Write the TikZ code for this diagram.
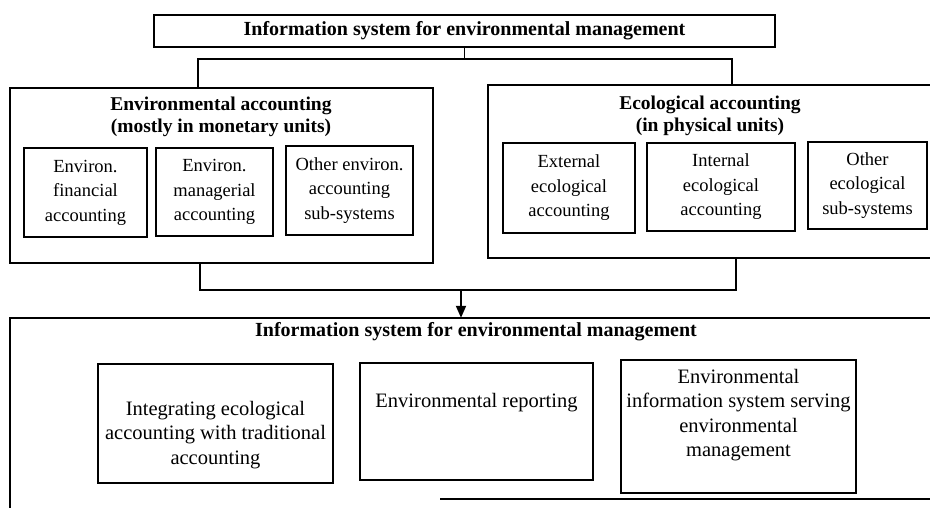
\documentclass[tikz,border=0pt]{standalone}
\usepackage{fontspec}
\setmainfont{Liberation Serif}
\usetikzlibrary{arrows.meta}
\begin{document}
\begin{tikzpicture}[x=1pt,y=-1pt,
  line/.style={line width=1.8pt},
  frame/.style={draw, line, rectangle, inner sep=0pt},
  hidden/.style={rectangle, inner sep=0pt},
  head/.style={font=\bfseries\fontsize{20}{22}\selectfont},
  title/.style={align=center, font=\bfseries\fontsize{19.5}{21.5}\selectfont},
  sub/.style={frame, align=center, font=\fontsize{18.5}{24.5}\selectfont},
  txtB/.style={align=center, font=\fontsize{20.5}{24.5}\selectfont}]
\useasboundingbox (0,0) rectangle (930,508);

% top-level system
\node[frame, head, minimum width=621pt, minimum height=32pt] (top) at (464.5,31)
  {Information system for environmental management};

% environmental accounting block
\node[frame, minimum width=423pt, minimum height=175pt] (envacc) at (221.5,175.5) {};
\node[title] (envT) at (221,117) {Environmental accounting\\(mostly in monetary units)};
\node[sub, minimum width=123pt, minimum height=89pt] (efa) at (85.5,192.5)
  {Environ.\\financial\\accounting};
\node[sub, minimum width=117pt, minimum height=88pt] (ema) at (214.5,192)
  {Environ.\\managerial\\accounting};
\node[sub, minimum width=127pt, minimum height=89pt] (oea) at (349.5,190.5)
  {Other environ.\\accounting\\sub-systems};

% ecological accounting block (open towards the right edge)
\node[hidden, minimum width=440pt, minimum height=173pt] (ecoacc) at (708,171.5) {};
\draw[line] ([xshift=4pt]ecoacc.north east) -- (ecoacc.north west)
  -- (ecoacc.south west) -- ([xshift=4pt]ecoacc.south east);
\node[title] (ecoT) at (710,116) {Ecological accounting\\(in physical units)};
\node[sub, minimum width=132pt, minimum height=90pt] (eea) at (569,188)
  {External\\ecological\\accounting};
\node[sub, minimum width=148pt, minimum height=88pt] (iea) at (721,187)
  {Internal\\ecological\\accounting};
\node[sub, minimum width=119pt, minimum height=87pt] (oes) at (867.5,185.5)
  {Other\\ecological\\sub-systems};

% branching from the top box
\coordinate (jl) at (198,59);
\coordinate (jr) at (732,59);
\draw[line] (top.south) -- (top.south |- jl);
\draw[line] (jl |- envacc.north) -- (jl) -- (jr) -- (jr |- ecoacc.north);

% merging into the lower system
\coordinate (ml) at (200,290);
\coordinate (mr) at (736,290);
\coordinate (mid) at (461,290);
\draw[line] (ml |- envacc.south) -- (ml) -- (mr) -- (mr |- ecoacc.south);

% lower system frame
\node[hidden, minimum width=920pt, minimum height=190pt] (isem) at (470,413) {};
\draw[line] ([xshift=2pt]isem.north east) -- (isem.north west) -- (isem.south west);
\draw[line] ([xshift=-490pt,yshift=9pt]isem.south east) -- ([xshift=2pt,yshift=9pt]isem.south east);
\draw[line, -{Triangle[length=12pt,width=10pt]}] (mid) -- (mid |- isem.north);

\node[head] (isemT) at (476,332) {Information system for environmental management};

\node[frame, minimum width=235pt, minimum height=119pt] (integ) at (215.5,423.5) {};
\node[txtB] (integT) at (215.5,435)
  {Integrating ecological\\accounting with traditional\\accounting};
\node[frame, minimum width=233pt, minimum height=117pt] (report) at (476.5,421.5) {};
\node[txtB] (reportT) at (476.5,403) {Environmental reporting};
\node[frame, minimum width=235pt, minimum height=133pt] (eis) at (738.5,426.5) {};
\node[txtB] (eisT) at (738.5,415)
  {Environmental\\information system serving\\environmental\\management};
\end{tikzpicture}
\end{document}
